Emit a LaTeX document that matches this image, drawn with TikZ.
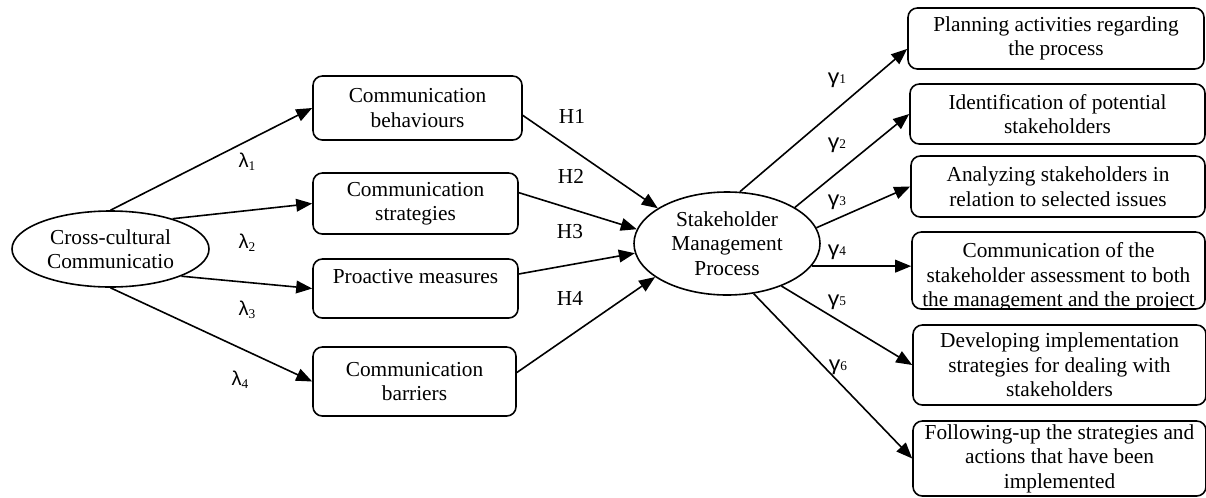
\documentclass[tikz,border=0pt]{standalone}
\usepackage{fontspec}
\setmainfont{Liberation Serif}
\newfontfamily\gfont{Liberation Sans}
\usetikzlibrary{shapes.geometric,arrows.meta}
\newcommand\lamlab[1]{{\gfont\fontsize{15}{15}\selectfont λ}\raisebox{-2.5pt}{\fontsize{10}{10}\selectfont #1}}
\newcommand\gamlab[1]{{\gfont\fontsize{15}{15}\selectfont\scalebox{1.15}[1]{γ}}{\fontsize{10}{10}\selectfont #1}}
\begin{document}
\begin{tikzpicture}[x=0.75pt,y=-0.75pt,
  every node/.style={font=\fontsize{16}{18.4}\selectfont},
  box/.style={draw,rounded corners=7pt,line width=1.2pt,align=center,inner sep=0pt},
  oval/.style={draw,ellipse,line width=1.2pt,align=center,inner sep=0pt},
  arr/.style={line width=1.2pt,-{Triangle[length=12pt,width=9.5pt]}},
  glab/.style={inner sep=0pt}
]
\useasboundingbox (0,0) rectangle (1206,497);

% left ellipse
\node[oval,minimum width=147.75pt,minimum height=57pt] (cc) at (110.5,249) {Cross-cultural\\Communicatio};

% middle column boxes
\node[box,minimum width=156.75pt,minimum height=48pt] (b1) at (417.5,108) {Communication\\behaviours};
\node[box,minimum width=153.75pt,minimum height=45.75pt] (b2) at (415.5,203.5) {Communication\\strategies};
\node[box,minimum width=153.75pt,minimum height=44.25pt] (b3) at (415.5,288.5) {Proactive measures\\\mbox{}};
\node[box,minimum width=152.25pt,minimum height=51.75pt] (b4) at (414.5,381.5) {Communication\\barriers};

% central ellipse
\node[oval,minimum width=139.5pt,minimum height=77.25pt] (sp) at (727,243.5) {Stakeholder\\Management\\Process};

% right column boxes
\node[box,minimum width=222pt,minimum height=45.75pt] (r1) at (1056,38.5) {Planning activities regarding\\the process};
\node[box,minimum width=221.25pt,minimum height=45pt] (r2) at (1057.5,114) {Identification of potential\\stakeholders};
\node[box,minimum width=220.5pt,minimum height=45.75pt] (r3) at (1058,186.5) {Analyzing stakeholders in\\relation to selected issues};
\node[box,minimum width=219.75pt,minimum height=57.75pt] (r4) at (1058.5,270.5) {};
\begin{scope}
\clip ([yshift=0.7pt]r4.south west) rectangle (r4.north east);
\node[align=center,inner sep=0pt] (r4t) at (1058.5,277) {Communication of the\\stakeholder assessment to both\\the management and the project};
\end{scope}
\node[box,minimum width=219.75pt,minimum height=60pt] (r5) at (1059.5,365) {Developing implementation\\strategies for dealing with\\stakeholders};
\node[box,minimum width=219.75pt,minimum height=56.25pt] (r6) at (1059.5,458.5) {Following-up the strategies and\\actions that have been\\implemented};

% lambda arrows
\draw[arr] (cc.north) -- (b1.west);
\draw[arr] (cc.26) -- (b2.west);
\draw[arr] (cc.-21) -- (b3.west);
\draw[arr] (cc.south) -- (b4.west);

% H arrows
\draw[arr] (b1.-4) -- (sp.153);
\draw[arr] (b2.6) -- (sp.171);
\draw[arr] (b3.8) -- (sp.186);
\draw[arr] (b4.5) -- (sp.205);

% gamma arrows
\draw[arr] (sp.76) -- (r1.184);
\draw[arr] (sp.28) -- (r2.west);
\draw[arr] (sp.10) -- (r3.west);
\draw[arr] (sp.-15) -- (sp.-15 -| r4.west);
\draw[arr] (sp.-38) -- (r5.west);
\draw[arr] (sp.-62) -- (r6.west);

% labels
\node[glab] (l1) at (247,162) {\lamlab{1}};
\node[glab] (l2) at (247,243) {\lamlab{2}};
\node[glab] (l3) at (247,310) {\lamlab{3}};
\node[glab] (l4) at (240,380) {\lamlab{4}};

\node[glab] (h1) at (572,116) {H1};
\node[glab] (h2) at (571,176) {H2};
\node[glab] (h3) at (570,232) {H3};
\node[glab] (h4) at (570,298) {H4};

\node[glab] (g1) at (837,80) {\gamlab{1}};
\node[glab] (g2) at (837,145) {\gamlab{2}};
\node[glab] (g3) at (837,202) {\gamlab{3}};
\node[glab] (g4) at (837,252) {\gamlab{4}};
\node[glab] (g5) at (837,302) {\gamlab{5}};
\node[glab] (g6) at (838,367) {\gamlab{6}};
\end{tikzpicture}
\end{document}
